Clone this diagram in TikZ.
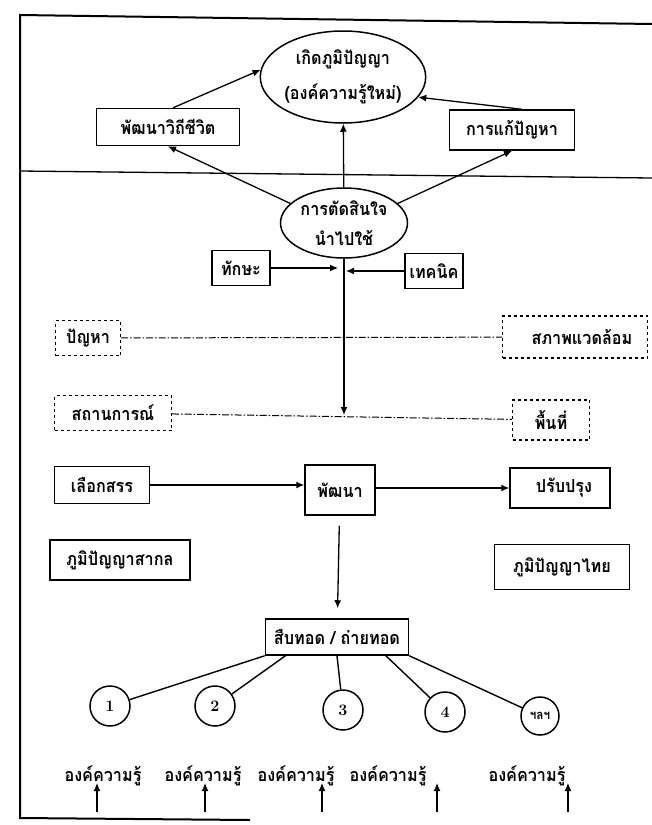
\documentclass[tikz,border=0pt]{standalone}
\usepackage{fontspec}
\newfontfamily\thaifont[Script=Thai,FakeStretch=0.9]{Loma}
\usetikzlibrary{arrows.meta,shapes.geometric}
\begin{document}
\begin{tikzpicture}[x=1pt,y=-1pt,
  every node/.style={font=\thaifont\bfseries\fontsize{18}{20}\selectfont},
  box/.style={draw,line width=1.5pt,inner sep=0pt},
  dbox/.style={draw,dashed,line width=1.1pt,inner sep=0pt},
  ell/.style={draw,ellipse,line width=1.5pt,inner sep=0pt,align=center},
  circ/.style={draw,circle,line width=1.5pt,inner sep=0pt,minimum size=40pt,font=\bfseries\fontsize{16}{18}\selectfont},
  arr/.style={-{Latex[length=8pt,width=7pt]},line width=1.3pt},
  dd/.style={line width=1pt,dash pattern=on 7pt off 2pt on 1.5pt off 2pt},
  conn/.style={line width=1.4pt}]
\useasboundingbox (0,0) rectangle (652,825);
% frame
\draw[line width=2pt] (652,24) -- (20,15) -- (20,818) -- (250,820);
\draw[line width=1.3pt] (20,171) -- (652,178);
% nodes
\node[ell,minimum width=163pt,minimum height=92pt] (wis) at (343,77) {เกิดภูมิปัญญา\\[14pt](องค์ความรู้ใหม่)};
\node[ell,minimum width=127pt,minimum height=70pt] (dec) at (344,223) {การตัดสินใจ\\[10pt]นำไปใช้};
\node[box,minimum width=143pt,minimum height=37pt] (life) at (168,127) {พัฒนาวิถีชีวิต};
\node[box,minimum width=125pt,minimum height=40pt] (solve) at (512,130) {การแก้ปัญหา};
\node[box,minimum width=58pt,minimum height=35pt] (skill) at (241,268) {ทักษะ};
\node[box,minimum width=58pt,minimum height=35pt] (tech) at (434,271) {เทคนิค};
\node[dbox,minimum width=65pt,minimum height=35pt] (prob) at (88,338) {ปัญหา};
\node[dbox,minimum width=145pt,minimum height=42pt] (env) at (575,337) {\hspace*{14pt}สภาพแวดล้อม};
\node[dbox,minimum width=117pt,minimum height=35pt] (sit) at (113,413) {สถานการณ์};
\node[dbox,minimum width=77pt,minimum height=40pt] (area) at (551,420) {พื้นที่};
\node[box,minimum width=95pt,minimum height=37pt] (sel) at (102,485) {เลือกสรร};
\node[box,minimum width=70pt,minimum height=50pt] (dev) at (340,490) {พัฒนา};
\node[box,minimum width=100pt,minimum height=40pt] (imp) at (560,488) {\hspace*{8pt}ปรับปรุง};
\node[box,minimum width=140pt,minimum height=40pt] (uni) at (120,560) {ภูมิปัญญาสากล};
\node[box,minimum width=135pt,minimum height=45pt] (thai) at (562,567) {ภูมิปัญญาไทย};
\node[box,minimum width=143pt,minimum height=36pt] (pass) at (337,637) {สืบทอด / ถ่ายทอด};
\node[circ] (c1) at (110,706) {1};
\node[circ] (c2) at (215,706) {2};
\node[circ] (c3) at (343,710) {3};
\node[circ] (c4) at (445,712) {4};
\node[circ,minimum size=38pt] (c5) at (540,716) {\thaifont\fontsize{13}{15}\selectfont ฯลฯ};
\node (k1) at (103,776) {องค์ความรู้};
\node (k2) at (203,776) {องค์ความรู้};
\node (k3) at (296,776) {องค์ความรู้};
\node (k4) at (388,776) {องค์ความรู้};
\node (k5) at (527,776) {องค์ความรู้};
% coordinates
\coordinate (sk) at (338,268);
\coordinate (te) at (346,271);
\coordinate (vend) at (344,415);
\foreach \i/\x in {1/97,2/205,3/322,4/437,5/568}{
  \coordinate (ub\i) at (\x,812);
  \coordinate (ut\i) at (\x,783);
}
% connectors
\draw[arr] (dec.160) -- (life.south);
\draw[arr] (dec.20) -- (solve.south);
\draw[arr] (dec) -- (wis);
\draw[arr] (life.75) -- (wis.175);
\draw[arr] (solve.65) -- (wis.-15);
\draw[arr] (skill) -- (sk);
\draw[arr] (tech) -- (te);
\draw[arr] (dec) -- (vend);
\draw[dd] (prob) -- (env);
\draw[dd] (sit) -- (area);
\draw[arr] (sel.east) -- (sel.east -| dev.west);
\draw[arr] (dev.east |- imp.west) -- (imp.west);
\draw[arr,shorten <=10pt,shorten >=10pt] (dev) -- (pass);
\draw[conn] (pass.south west) -- (c1);
\draw[conn] (pass.200) -- (c2);
\draw[conn] (pass.south) -- (c3);
\draw[conn] (pass.-21) -- (c4);
\draw[conn] (pass.south east) -- (c5);
\foreach \i in {1,...,5}{\draw[arr] (ub\i) -- (ut\i);}
\end{tikzpicture}
\end{document}
